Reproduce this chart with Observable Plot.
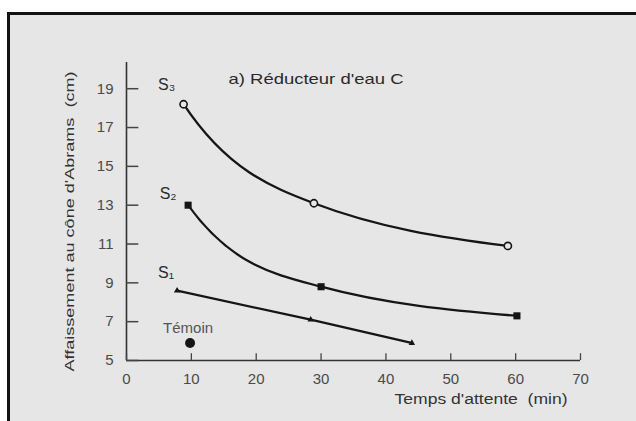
<!DOCTYPE html>
<html>
<head>
<meta charset="utf-8">
<script src="https://cdn.jsdelivr.net/npm/d3@7"></script>
<script src="https://cdn.jsdelivr.net/npm/@observablehq/plot@0.6"></script>
<style>
  html, body { margin: 0; padding: 0; background: #fff; }
  #sheet {
    position: absolute; left: 7px; top: 12px; width: 629px; height: 409px;
    border-top: 3px solid #111; border-left: 3px solid #111; background: #e6e6e6;
  }
  #chart { position: absolute; left: 0; top: 0; }
</style>
</head>
<body>
<div id="sheet"></div>
<div id="chart"></div>
<script>
// Axis ticks
const xTicks = [0, 10, 20, 30, 40, 50, 60, 70];
const yTicks = [5, 7, 9, 11, 13, 15, 17, 19];

// Slump (cm) against waiting time (min) for each dosage
const s3Time = [8.8, 28.9, 58.8];
const s3Slump = [18.2, 13.1, 10.9];
const s2Time = [9.5, 30.0, 60.2];
const s2Slump = [13.0, 8.8, 7.3];
const s1Time = [7.8, 28.4, 44.0];
const s1Slump = [8.6, 7.1, 5.9];
const temoinTime = [9.8];
const temoinSlump = [5.9];

// Texts
const seriesNames = ["S₃", "S₂", "S₁", "Témoin"];
const title = "a) Réducteur d'eau C";
const xLabel = "Temps d'attente  (min)";
const yLabel = "Affaissement au cône d'Abrams  (cm)";

const rows = (ts, vs) => ts.map((t, i) => ({t, v: vs[i]}));
const s3 = rows(s3Time, s3Slump);
const s2 = rows(s2Time, s2Slump);
const s1 = rows(s1Time, s1Slump);
const temoin = rows(temoinTime, temoinSlump);

// Hermite curve whose tangents come from a hyperbola y = a + b/(x - c)
// through each consecutive triplet of points (decay-style fitted curve).
function hyperbolicCurve(context) {
  let pts = [];
  const slopeAt = (p0, p1, p2, x) => {
    const r = (p0[1] - p1[1]) / (p1[1] - p2[1]);
    const k = (p1[0] - p0[0]) / (p2[0] - p1[0]);
    const q = r / k;
    if (!isFinite(q) || Math.abs(q - 1) < 1e-6 || q <= 0) return (p2[1] - p0[1]) / (p2[0] - p0[0]);
    const c = (q * p0[0] - p2[0]) / (q - 1);
    const b = (p0[1] - p1[1]) * (p0[0] - c) * (p1[0] - c) / (p1[0] - p0[0]);
    return -b / ((x - c) * (x - c));
  };
  return {
    lineStart() { pts = []; },
    point(x, y) { pts.push([+x, +y]); },
    lineEnd() {
      const n = pts.length;
      if (!n) return;
      context.moveTo(pts[0][0], pts[0][1]);
      if (n < 3) { for (let i = 1; i < n; ++i) context.lineTo(pts[i][0], pts[i][1]); return; }
      const m = pts.map((p, i) => {
        const j = Math.min(Math.max(i - 1, 0), n - 3);
        return slopeAt(pts[j], pts[j + 1], pts[j + 2], p[0]);
      });
      for (let i = 0; i < n - 1; ++i) {
        const [x0, y0] = pts[i], [x1, y1] = pts[i + 1], h = (x1 - x0) / 3;
        context.bezierCurveTo(x0 + h, y0 + m[i] * h, x1 - h, y1 - m[i + 1] * h, x1, y1);
      }
    },
    areaStart() {}, areaEnd() {}
  };
}

const paper = "#e6e6e6";
const ink = "#151515";
const yTop = 20.35;

const chart = Plot.plot({
  width: 636,
  height: 421,
  marginLeft: 126,
  marginRight: 56,
  marginTop: 62,
  marginBottom: 61,
  style: {background: "transparent", fontFamily: "'Liberation Sans', Arial, sans-serif", color: "#4a4a4a"},
  x: {domain: [0, 70]},
  y: {domain: [5, yTop]},
  marks: [
    Plot.axisX({ticks: xTicks, tickSize: 0, tickPadding: 13, fontSize: 15, label: null}),
    Plot.axisY({ticks: yTicks, tickSize: 0, tickPadding: 13, fontSize: 15, label: null}),
    // axis lines with inward ticks
    Plot.ruleY([5], {x1: 0, x2: 70, stroke: "#333", strokeWidth: 1.6}),
    Plot.ruleX([0], {y1: 5, y2: yTop, stroke: "#333", strokeWidth: 1.6}),
    Plot.ruleX(xTicks, {x: d => d, y1: 5, y2: 5.35, stroke: "#444", strokeWidth: 1.3}),
    Plot.ruleY(yTicks, {y: d => d, x1: 0, x2: 1.9, stroke: "#444", strokeWidth: 1.5}),
    // curves
    Plot.line(s3, {x: "t", y: "v", curve: hyperbolicCurve, stroke: ink, strokeWidth: 2.3}),
    Plot.line(s2, {x: "t", y: "v", curve: hyperbolicCurve, stroke: ink, strokeWidth: 2.3}),
    Plot.line(s1, {x: "t", y: "v", curve: "monotone-x", stroke: ink, strokeWidth: 2.3}),
    // markers
    Plot.dot(s3, {x: "t", y: "v", r: 3.6, fill: paper, stroke: ink, strokeWidth: 1.6}),
    Plot.dot(s2, {x: "t", y: "v", symbol: "square", r: 4, fill: ink}),
    Plot.dot(s1, {x: "t", y: "v", symbol: "triangle", r: 2.4, fill: ink}),
    Plot.dot(temoin, {x: "t", y: "v", r: 5, fill: ink}),
    // series names next to the first point of each series
    Plot.text([s3[0]], {x: "t", y: "v", text: () => seriesNames[0], dx: -17, dy: -19, fontSize: 16, fill: "#2a2a2a"}),
    Plot.text([s2[0]], {x: "t", y: "v", text: () => seriesNames[1], dx: -20, dy: -11, fontSize: 16, fill: "#2a2a2a"}),
    Plot.text([s1[0]], {x: "t", y: "v", text: () => seriesNames[2], dx: -11, dy: -18, fontSize: 16, fill: "#2a2a2a"}),
    Plot.text(temoin, {x: "t", y: "v", text: () => seriesNames[3], dx: -2, dy: -15, fontSize: 15, fill: "#555"}),
    // title and axis labels
    Plot.text([title], {frameAnchor: "top-left", text: d => d, dx: 102, dy: 11, textAnchor: "start", fontSize: 15, fill: "#2a2a2a"}),
    Plot.text([xLabel], {frameAnchor: "bottom-right", text: d => d, dx: -13, dy: 43, textAnchor: "end", fontSize: 14, fill: "#333"}),
    Plot.text([yLabel], {frameAnchor: "left", text: d => d, rotate: -90, dx: -57, dy: 10, textAnchor: "middle", fontSize: 13, fill: "#333"})
  ]
});

// stretch the wide scanned-style lettering
const stretch = {[title]: 175, [xLabel]: 173, [yLabel]: 300};
d3.select(chart).selectAll("text").each(function () {
  const w = stretch[this.textContent];
  if (w) { this.setAttribute("textLength", w); this.setAttribute("lengthAdjust", "spacingAndGlyphs"); }
});

document.getElementById("chart").append(chart);
</script>
</body>
</html>
